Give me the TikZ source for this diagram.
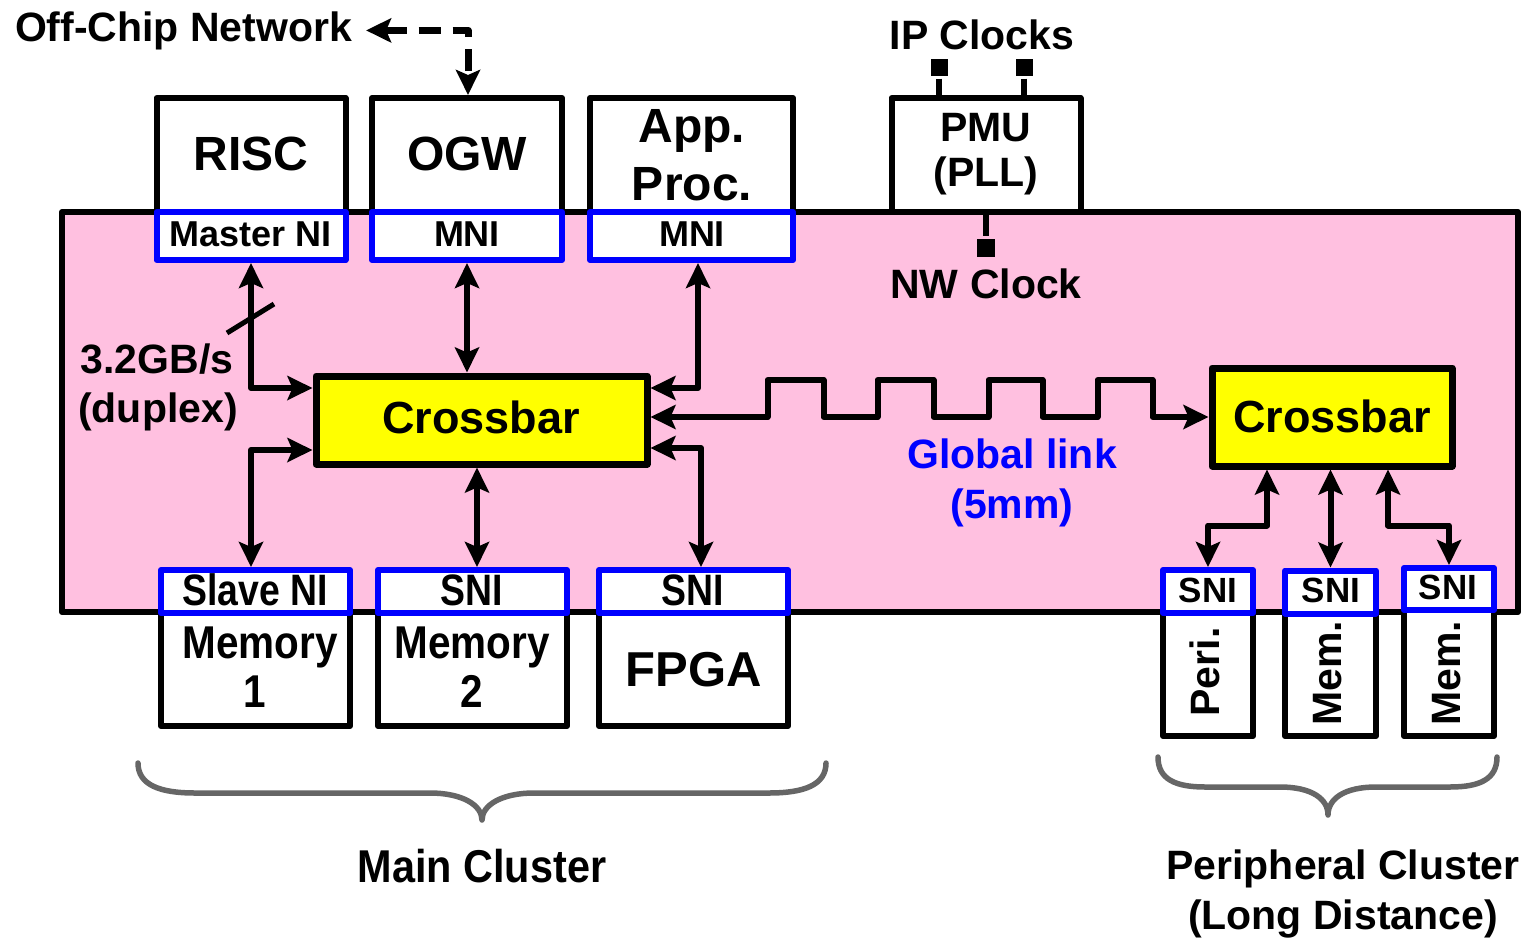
\documentclass[tikz,border=0pt]{standalone}
\usepackage{fontspec}
\setmainfont{Liberation Sans}
\usepackage{graphicx}
\usetikzlibrary{arrows.meta}
\definecolor{panelpink}{RGB}{255,192,224}
\definecolor{xbaryellow}{RGB}{255,255,0}
\definecolor{niblue}{RGB}{0,0,255}
\definecolor{bracegray}{RGB}{102,102,102}
% horizontally condensed text
\newcommand\cnd[2]{\scalebox{#1}[1]{#2}}
\newcommand\fs[1]{\fontsize{#1}{#1}\selectfont\bfseries}

\begin{document}
\begin{tikzpicture}[x=1pt,y=-1pt,line width=6pt,line join=round,
  wh/.style 2 args={minimum width=#1,minimum height=#2},
  box/.style={draw=black,fill=white,inner sep=0pt},
  nibox/.style={draw=niblue,fill=white,inner sep=0pt},
  xbar/.style={draw=black,fill=xbaryellow,inner sep=0pt,line width=7pt},
  clk/.style={fill=black,inner sep=0pt,minimum size=17pt},
  txt/.style={inner sep=0pt,anchor=base,font=\fs{41}},
  bigtxt/.style={inner sep=0pt,anchor=base,font=\fs{48}},
  nitxt/.style={inner sep=0pt,anchor=base,font=\fs{36}},
  cndtxt/.style={inner sep=0pt,anchor=base,font=\fs{#1}},
  tip/.style={Stealth[length=25pt,width=24pt,inset=5pt]},
  link/.style={draw=black,line width=6pt,{Stealth[length=25pt,width=24pt,inset=5pt]}-{Stealth[length=25pt,width=24pt,inset=5pt]}},
  dashline/.style={draw=black,line width=7pt,dash pattern=on 22pt off 12pt,{Stealth[length=25pt,width=24pt,inset=5pt]}-{Stealth[length=25pt,width=24pt,inset=5pt]}},
  brace/.style={draw=bracegray,line width=5.5pt,line cap=round}]

\useasboundingbox (0,0) rectangle (1534,937);

% network panel
\node[draw=black,fill=panelpink,line width=6pt,inner sep=0pt,wh={1456}{400}] (panel) at (790,412) {};

% IP blocks above the panel
\node[box,wh={189}{114}] (risc) at (251,155) {};
\node[box,wh={190}{114}] (ogw) at (467,155) {};
\node[box,wh={203}{114}] (app) at (691.5,155) {};
\node[box,wh={189}{114}] (pmu) at (986,155) {};

% master network interfaces
\node[nibox,wh={189}{48}] (mni0) at (251,236) {};
\node[nibox,wh={190}{48}] (mni1) at (467,236) {};
\node[nibox,wh={203}{48}] (mni2) at (691.5,236) {};

% IP blocks below the panel (main cluster)
\node[box,wh={189}{113}] (mem1) at (255.5,669.5) {};
\node[box,wh={189}{113}] (mem2) at (472.5,669.5) {};
\node[box,wh={189}{113}] (fpga) at (693.5,669.5) {};
\node[nibox,wh={189}{43}] (sni0) at (255.5,591.5) {};
\node[nibox,wh={189}{43}] (sni1) at (472.5,591.5) {};
\node[nibox,wh={189}{43}] (sni2) at (693.5,591.5) {};

% IP blocks below the panel (peripheral cluster)
\node[box,wh={90}{123}] (peri) at (1208,674.5) {};
\node[box,wh={91}{123}] (mem3) at (1330.5,674.5) {};
\node[box,wh={90}{126}] (mem4) at (1449,673) {};
\node[nibox,wh={90}{43}] (rs0) at (1208,591.5) {};
\node[nibox,wh={91}{43}] (rs1) at (1330.5,592) {};
\node[nibox,wh={90}{42}] (rs2) at (1449,589) {};

% crossbars
\node[xbar,wh={331}{88}] (xbarL) at (481.5,420) {};
\node[xbar,wh={240}{98}] (xbarR) at (1332,417) {};

% clocks
\node[clk] (ipc1) at (939,67) {};
\node[clk] (ipc2) at (1024,67) {};
\node[clk,minimum size=18pt] (nwc) at (986,248) {};
\draw (ipc1.south) -- (ipc1.south |- pmu.north);
\draw (ipc2.south) -- (ipc2.south |- pmu.north);
\draw (pmu.south) -- (nwc.north);

% labels
\node[txt,anchor=base west] (offchip) at (12,41) {Off-Chip Network};
\node[bigtxt] (tRISC) at (251,170) {RISC};
\node[bigtxt] (tOGW) at (467,170) {OGW};
\node[bigtxt] (tApp) at (692,142) {App.};
\node[bigtxt] (tProc) at (692,200) {Proc.};
\node[txt] (tPMU) at (986,141) {PMU};
\node[txt] (tPLL) at (986,186) {(PLL)};
\node[txt] (tIP) at (982,49) {IP Clocks};
\node[txt] (tNW) at (986,298) {NW Clock};
\node[nitxt] (tMNI0) at (251,246) {Master NI};
\node[nitxt] (tMNI1) at (467,246) {MNI};
\node[nitxt] (tMNI2) at (692,246) {MNI};
\node[cndtxt=45] (tXL) at (481,433) {Crossbar};
\node[cndtxt=45] (tXR) at (1332,432) {Crossbar};
\node[txt] (tBW) at (157,373) {3.2GB/s};
\node[txt] (tDup) at (158,422) {(duplex)};
\node[txt,text=niblue] (tGL) at (1012,468) {Global link};
\node[txt,text=niblue] (tGL2) at (1012,518) {(5mm)};
\node[cndtxt=44] (tSNI0) at (255,605) {\cnd{0.85}{Slave NI}};
\node[cndtxt=44] (tSNI1) at (472,605) {\cnd{0.85}{SNI}};
\node[cndtxt=44] (tSNI2) at (693,605) {\cnd{0.85}{SNI}};
\node[cndtxt=46] (tMem1a) at (260,658) {\cnd{0.88}{Memory}};
\node[cndtxt=46] (tMem1b) at (255,707) {\cnd{0.88}{1}};
\node[cndtxt=46] (tMem2a) at (472,658) {\cnd{0.88}{Memory}};
\node[cndtxt=46] (tMem2b) at (472,707) {\cnd{0.88}{2}};
\node[cndtxt=49] (tFPGA) at (694,686) {FPGA};
\node[cndtxt=35] (tRS0) at (1208,602) {SNI};
\node[cndtxt=35] (tRS1) at (1331,602) {SNI};
\node[cndtxt=35] (tRS2) at (1448,599) {SNI};
\node[inner sep=0pt,font=\fs{41},rotate=90] (tPeri) at (1205,672) {Peri.};
\node[inner sep=0pt,font=\fs{41},rotate=90] (tMem3) at (1328,673) {Mem.};
\node[inner sep=0pt,font=\fs{41},rotate=90] (tMem4) at (1447,673) {Mem.};
\node[cndtxt=46] (tMain) at (482,882) {\cnd{0.9}{Main Cluster}};
\node[txt] (tPer1) at (1343,879) {Peripheral Cluster};
\node[txt] (tPer2) at (1343,929) {(Long Distance)};

% off-chip link
\draw[dashline] ([xshift=11pt]offchip.east) -| ([xshift=1pt]ogw.north);

% main cluster links
\draw[link] (mni0.south) |- ([yshift=32pt]xbarL.west);
\draw[link] ([yshift=-30pt]xbarL.west) -| ([xshift=-4.5pt]sni0.north);
\draw[link] (mni1.south) -- (mni1.south |- xbarL.north);
\draw[link] ([xshift=6.5pt]mni2.south) |- ([yshift=32pt]xbarL.east);
\draw[link] ([xshift=4.5pt]sni1.north |- xbarL.south) -- ([xshift=4.5pt]sni1.north);
\draw[link] ([yshift=-28pt]xbarL.east) -| ([xshift=7.5pt]sni2.north);
\draw[line width=5pt] (227,333) -- (274,304);

% global link (square wave)
\draw[link] ([yshift=3pt]xbarL.east) -- ++(117,0) -- ++(0,-37) -- ++(56,0) -- ++(0,37)
  -- ++(54,0) -- ++(0,-37) -- ++(56,0) -- ++(0,37)
  -- ++(55,0) -- ++(0,-37) -- ++(54,0) -- ++(0,37)
  -- ++(55,0) -- ++(0,-37) -- ++(55,0) -- ++(0,37) -- (xbarR.west);

% peripheral cluster links
\draw[link] ([xshift=-65pt]xbarR.south) -- ++(0,56) -| (rs0.north);
\draw[link] (rs1.north |- xbarR.south) -- (rs1.north);
\draw[link] ([xshift=56pt]xbarR.south) -- ++(0,56) -| (rs2.north);

% braces
\draw[brace] (138,763) .. controls (138,785) and (160,793) .. (195,793) -- (430,793)
  .. controls (462,793) and (482,805) .. (482,820)
  .. controls (482,805) and (502,793) .. (534,793) -- (769,793)
  .. controls (804,793) and (826,785) .. (826,763);
\draw[brace] (1158,757) .. controls (1158,779) and (1175,787) .. (1205,787) -- (1280,787)
  .. controls (1312,787) and (1328,799) .. (1328,815)
  .. controls (1328,799) and (1344,787) .. (1376,787) -- (1450,787)
  .. controls (1480,787) and (1497,779) .. (1497,757);
\end{tikzpicture}
\end{document}
